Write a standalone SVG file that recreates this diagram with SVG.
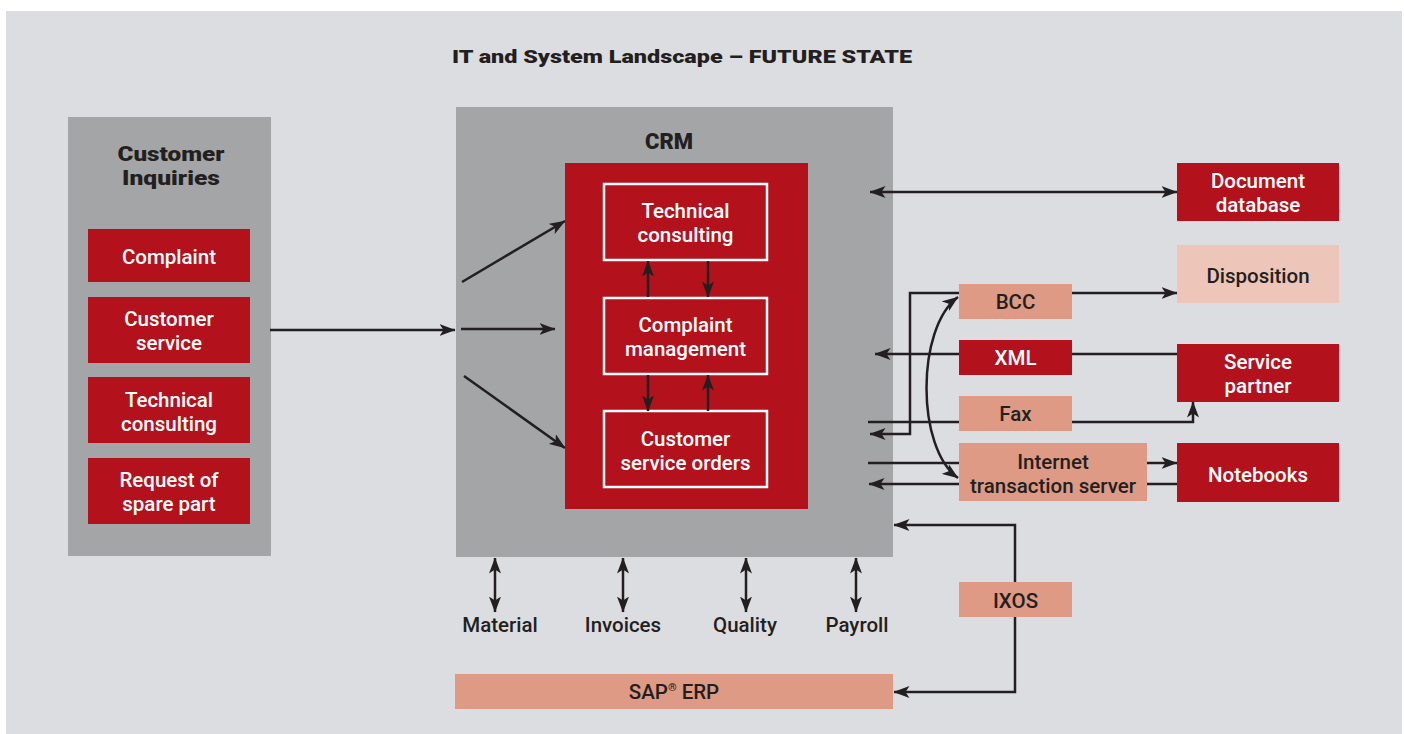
<svg xmlns="http://www.w3.org/2000/svg" width="1404" height="734" viewBox="0 0 1404 734">
<defs>
<marker id="ah" viewBox="0 0 16 12" markerWidth="16" markerHeight="12" refX="15.5" refY="6" orient="auto-start-reverse" markerUnits="userSpaceOnUse">
<path d="M0,0 L16,6 L0,12 L4,6 Z" fill="#231f20"/>
</marker>
<style>
.panel{fill:#a4a5a7}
.red{fill:#b3121d}
.salmon{fill:#de9a84}
.pink{fill:#edc6b9}
.inner{fill:#b3121d;stroke:#ffffff;stroke-width:2.5}
.wt{font-family:Roboto,"Liberation Sans",sans-serif;font-weight:500;font-size:20.5px;fill:#ffffff;text-anchor:middle}
.dt{font-family:Roboto,"Liberation Sans",sans-serif;font-weight:500;font-size:20.5px;fill:#231f20;text-anchor:middle}
.hd{font-family:Roboto,"Liberation Sans",Arial,sans-serif;font-weight:900;fill:#231f20;text-anchor:middle}
.ln{fill:none;stroke:#231f20;stroke-width:2.5}
.a{marker-end:url(#ah)}
.aa{marker-start:url(#ah);marker-end:url(#ah)}
</style>
</defs>
<rect x="0" y="0" width="1404" height="734" fill="#ffffff"/>
<rect x="6" y="11" width="1396" height="723" fill="#dcdde0"/>
<text class="hd" x="682" y="63" font-size="17.5" textLength="460" lengthAdjust="spacingAndGlyphs">IT and System Landscape – FUTURE STATE</text>

<g id="customer-inquiries">
<rect class="panel" x="68" y="117" width="203" height="439"/>
<text class="hd" x="171" y="161" font-size="20.5" textLength="107" lengthAdjust="spacingAndGlyphs">Customer</text>
<text class="hd" x="171" y="185" font-size="20.5" textLength="98" lengthAdjust="spacingAndGlyphs">Inquiries</text>
</g>
<g id="ci-complaint"><rect class="red" x="88" y="229" width="162" height="53"/><text class="wt" x="169" y="264">Complaint</text></g>
<g id="ci-customer-service"><rect class="red" x="88" y="297" width="162" height="66"/><text class="wt" x="169" y="326">Customer</text><text class="wt" x="169" y="350">service</text></g>
<g id="ci-technical-consulting"><rect class="red" x="88" y="377" width="162" height="66"/><text class="wt" x="169" y="407">Technical</text><text class="wt" x="169" y="431">consulting</text></g>
<g id="ci-request"><rect class="red" x="88" y="458" width="162" height="66"/><text class="wt" x="169" y="487">Request of</text><text class="wt" x="169" y="511">spare part</text></g>

<g id="crm">
<rect class="panel" x="456" y="107" width="437" height="450"/>
<text class="hd" x="669" y="149" font-size="22">CRM</text>
<rect class="red" x="565" y="163" width="243" height="346"/>
</g>
<g id="crm-technical-consulting"><rect class="inner" x="604" y="184" width="163" height="76"/><text class="wt" x="685.5" y="218">Technical</text><text class="wt" x="685.5" y="242">consulting</text></g>
<g id="crm-complaint-management"><rect class="inner" x="604" y="298" width="163" height="76"/><text class="wt" x="685.5" y="332">Complaint</text><text class="wt" x="685.5" y="356">management</text></g>
<g id="crm-customer-service-orders"><rect class="inner" x="604" y="411" width="163" height="76"/><text class="wt" x="685.5" y="446">Customer</text><text class="wt" x="685.5" y="470">service orders</text></g>

<g id="sap-erp"><rect class="salmon" x="455" y="674" width="438" height="35"/><text class="dt" x="674" y="699">SAP<tspan font-size="11" dy="-8">®</tspan><tspan dy="8"> ERP</tspan></text></g>

<g id="connectors">
<path class="ln a" d="M270,330 H455"/>
<path class="ln a" d="M462,282 L565,221"/>
<path class="ln a" d="M461,329 H555"/>
<path class="ln a" d="M464,376 L565,448"/>
<path class="ln a" d="M648,297 V261"/>
<path class="ln a" d="M708,261 V297"/>
<path class="ln a" d="M648,375 V411"/>
<path class="ln a" d="M708,411 V375"/>
<path class="ln aa" d="M495,558 V612"/>
<path class="ln aa" d="M623,558 V612"/>
<path class="ln aa" d="M746,558 V612"/>
<path class="ln aa" d="M856,558 V612"/>
<path class="ln aa" d="M870,192 H1177"/>
<path class="ln a" d="M1072,293 H1177"/>
<path class="ln a" d="M959,293 H910 V434 H870"/>
<path class="ln a" d="M1177,354 H875"/>
<path class="ln a" d="M868,422 H1193 V402"/>
<path class="ln a" d="M868,463 H1177"/>
<path class="ln a" d="M1177,484 H869"/>
<path class="ln aa" d="M958,297 C916,328 916,448 958,478"/>
<path class="ln a" d="M1015,600 V525 H894"/>
<path class="ln a" d="M1015,600 V692 H894"/>
</g>

<g id="document-database"><rect class="red" x="1177" y="163" width="162" height="58"/><text class="wt" x="1258" y="188">Document</text><text class="wt" x="1258" y="212">database</text></g>
<g id="disposition"><rect class="pink" x="1177" y="245" width="162" height="58"/><text class="dt" x="1258" y="283">Disposition</text></g>
<g id="service-partner"><rect class="red" x="1177" y="344" width="162" height="58"/><text class="wt" x="1258" y="369">Service</text><text class="wt" x="1258" y="393">partner</text></g>
<g id="notebooks"><rect class="red" x="1177" y="443" width="162" height="59"/><text class="wt" x="1258" y="482">Notebooks</text></g>
<g id="bcc"><rect class="salmon" x="959" y="284" width="113" height="35"/><text class="dt" x="1015.5" y="309">BCC</text></g>
<g id="xml"><rect class="red" x="959" y="340" width="113" height="35"/><text class="wt" x="1015.5" y="365">XML</text></g>
<g id="fax"><rect class="salmon" x="959" y="396" width="113" height="35"/><text class="dt" x="1015.5" y="421">Fax</text></g>
<g id="internet-transaction-server"><rect class="salmon" x="959" y="443" width="188" height="58"/><text class="dt" x="1053" y="469">Internet</text><text class="dt" x="1053" y="493">transaction server</text></g>
<g id="ixos"><rect class="salmon" x="959" y="582" width="113" height="35"/><text class="dt" x="1015.5" y="608">IXOS</text></g>

<g id="labels">
<text class="dt" x="500" y="632">Material</text>
<text class="dt" x="623" y="632">Invoices</text>
<text class="dt" x="745" y="632">Quality</text>
<text class="dt" x="857" y="632">Payroll</text>
</g>
</svg>
